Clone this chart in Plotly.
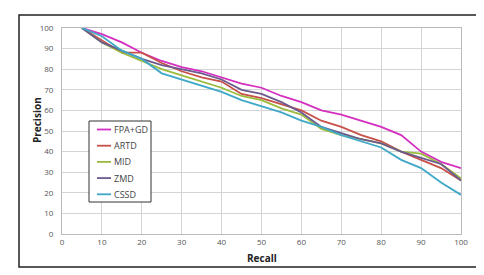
import plotly.graph_objects as go

recall = [5, 10, 15, 20, 25, 30, 35, 40, 45, 50, 55, 60, 65, 70, 75, 80, 85, 90, 95, 100]
fpa_gd = [100, 97, 93, 88, 84, 81, 79, 76, 73, 71, 67, 64, 60, 58, 55, 52, 48, 40, 35, 32]
artd = [100, 94, 88, 88, 83, 79, 76, 74, 68, 66, 63, 60, 55, 52, 48, 45, 40, 36, 32, 26]
mid = [100, 93, 88, 84, 80, 77, 74, 71, 67, 65, 61, 58, 51, 48, 46, 44, 40, 39, 34, 27]
zmd = [100, 93, 89, 85, 82, 80, 78, 75, 70, 68, 64, 59, 52, 49, 46, 44, 40, 37, 34, 26]
cssd = [100, 96, 89, 85, 78, 75, 72, 69, 65, 62, 59, 55, 52, 48, 45, 42, 36, 32, 25, 19]

series_names = ["FPA+GD", "ARTD", "MID", "ZMD", "CSSD"]
series_values = [fpa_gd, artd, mid, zmd, cssd]
series_colors = ["#d42fbf", "#c8504a", "#9bbb3c", "#6a5a8e", "#3fa8c8"]

# plot area in pixels: x 54..453, y 20..226
L, R, T, B = 54, 453, 20, 226


def px(x):
    return (x - L) / (R - L)


def py(y):
    return (B - y) / (B - T)


fig = go.Figure()
for name, vals, col in zip(series_names, series_values, series_colors):
    fig.add_trace(go.Scatter(x=recall, y=vals, mode="lines", name=name,
                             line=dict(color=col, width=1.8), showlegend=False))

axis_font = dict(family="Open Sans, Liberation Sans, sans-serif", size=8, color="#555555")
fig.update_layout(
    width=484, height=275,
    margin=dict(l=L, r=484 - R, t=T, b=275 - B),
    paper_bgcolor="white", plot_bgcolor="white",
    font=dict(family="Open Sans, Liberation Sans, sans-serif", size=9, color="#333"),
    xaxis=dict(range=[0, 100], dtick=10, showgrid=True, gridcolor="#d4d4d4", gridwidth=1,
               zeroline=False, showline=True, linecolor="#bbbbbb", tickfont=axis_font,
               ticks="", mirror=True),
    yaxis=dict(range=[0, 100], dtick=10, showgrid=True, gridcolor="#d4d4d4", gridwidth=1,
               zeroline=False, showline=True, linecolor="#bbbbbb", tickfont=axis_font,
               ticks="", mirror=True, ticklabelstandoff=6),
    showlegend=False,
)

# axis titles
fig.add_annotation(text="<b>Recall</b>", xref="paper", yref="paper", x=px(254), y=py(258),
                   yanchor="bottom", borderpad=0, showarrow=False,
                   font=dict(size=10, color="#222"))
fig.add_annotation(text="<b>Precision</b>", xref="paper", yref="paper", x=px(20), y=py(112),
                   textangle=-90, showarrow=False, font=dict(size=10, color="#222"))

# outer frame
fig.add_shape(type="rect", xref="paper", yref="paper",
              x0=px(11), x1=px(473), y0=py(259), y1=py(7),
              line=dict(color="#222222", width=1.5), fillcolor="rgba(0,0,0,0)")

# legend box
fig.add_shape(type="rect", xref="paper", yref="paper",
              x0=px(81), x1=px(143), y0=py(194), y1=py(113),
              line=dict(color="#333333", width=1), fillcolor="white")
for i, (name, col) in enumerate(zip(series_names, series_colors)):
    yc = 121.5 + 16.2 * i
    fig.add_shape(type="line", xref="paper", yref="paper",
                  x0=px(89), x1=px(103), y0=py(yc), y1=py(yc),
                  line=dict(color=col, width=1.8))
    fig.add_annotation(text=name, xref="paper", yref="paper", x=px(104), y=py(yc),
                       xanchor="left", yanchor="middle", showarrow=False,
                       font=dict(size=9, color="#444"))

fig.write_html("out.html")
